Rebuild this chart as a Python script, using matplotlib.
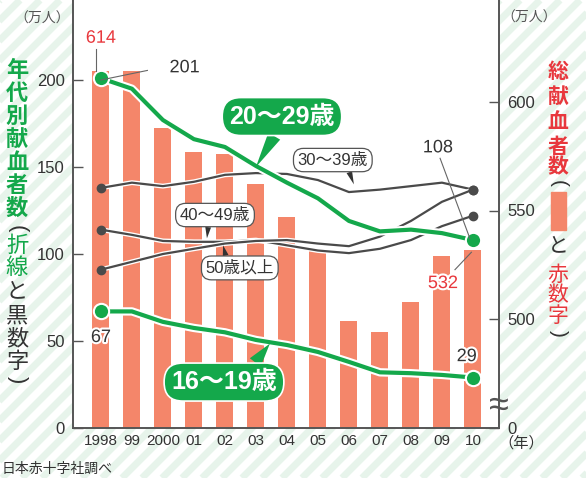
import matplotlib
matplotlib.use("Agg")
import matplotlib.pyplot as plt
import matplotlib.patheffects as pe
from matplotlib.patches import Rectangle

plt.rcParams['font.family'] = ['Liberation Sans', 'Noto Sans CJK JP']

# data (万人)
years = ['1998', '99', '2000', '01', '02', '03', '04', '05', '06', '07', '08', '09', '10']
total = [614, 614, 588, 577, 576, 562, 547, 532, 499, 494, 508, 529, 532]
age_16_19 = [67, 67, 61, 57.5, 55, 50.6, 47.7, 43.7, 38, 32, 31.5, 30.5, 29]
age_20_29 = [201, 195, 177, 166, 161.5, 150.6, 141, 132, 119, 113, 114, 112, 108]
age_30_39 = [138, 141, 139, 141.5, 145.5, 146.5, 146, 142.5, 135.6, 137, 139, 141, 137]
age_40_49 = [114, 111, 107.5, 107, 107, 108, 105, 102, 100.5, 103, 108, 116, 122]
age_50_up = [91, 95.5, 100, 103, 106, 107.5, 108, 106, 104.5, 110, 119, 130, 137]

GREEN = '#14a84b'
GRAY = '#4a4a4a'
BAR = '#f4866a'
RED = '#e8383d'
TXT = '#333333'

W, H = 586, 478
fig = plt.figure(figsize=(W / 100, H / 100), dpi=100)

# striped background, pixel coordinates (y down)
bg = fig.add_axes([0, 0, 1, 1], zorder=-10)
bg.set_xlim(0, W)
bg.set_ylim(H, 0)
bg.axis('off')
for c in range(-H, W + 20, 20):
    bg.plot([c, c + H], [H, 0], color='#e7f4eb', lw=5, solid_capstyle='butt', zorder=0)

# main axes
pos = [73 / W, 50 / H, 426 / W, 435 / H]
ax = fig.add_axes(pos)
axb = ax.twinx()
ax.set_zorder(axb.get_zorder() + 1)
ax.patch.set_visible(False)
axb.patch.set_visible(True)
axb.patch.set_facecolor('white')

x = list(range(len(years)))

# bars: total donors (right axis)
axb.bar(x, total, width=0.55, color=BAR, zorder=1)
axb.set_ylim(450, 650)
axb.set_yticks([450, 500, 550, 600, 650], ['0', '500', '550', '600', '650'])

# lines: by age (left axis)
white_edge = [pe.withStroke(linewidth=6, foreground='white')]
gray_edge = [pe.withStroke(linewidth=3.5, foreground='white')]
for s in [age_30_39, age_40_49, age_50_up]:
    ax.plot(x, s, color=GRAY, lw=1.6, path_effects=gray_edge, zorder=2)
    ax.plot([x[0], x[-1]], [s[0], s[-1]], 'o', color=GRAY, ms=6, zorder=3)
for s in [age_20_29, age_16_19]:
    ax.plot(x, s, color=GREEN, lw=3, path_effects=white_edge, zorder=4)
    ax.plot([x[0], x[-1]], [s[0], s[-1]], 'o', color=GREEN, ms=11,
            mec='white', mew=1.5, zorder=5)

ax.set_xlim(-0.9, 12.84)
ax.set_ylim(0, 250)
ax.set_yticks([0, 50, 100, 150, 200, 250])
ax.set_xticks(x, years)

for a in (ax, axb):
    a.spines['top'].set_visible(False)
    for s in ('left', 'right', 'bottom'):
        a.spines[s].set_color('#555555')
        a.spines[s].set_linewidth(1.2)
    a.tick_params(axis='y', direction='in', length=7, width=1, color='#555555',
                  labelsize=12, labelcolor=TXT, pad=6)
ax.tick_params(axis='x', length=0, labelsize=11, labelcolor=TXT, pad=4)

# number labels
halo = [pe.withStroke(linewidth=3, foreground='white')]
ax.text(0, 224, '614', color=RED, fontsize=13, ha='center', va='center', path_effects=halo, zorder=8)
ax.plot([-0.16, -0.16], [205, 218], color='#666666', lw=0.8, zorder=6)
ax.text(2.7, 207, '201', color=TXT, fontsize=13, ha='center', va='center', path_effects=halo, zorder=8)
ax.plot([0, 1.5], [200, 205.5], color='#666666', lw=0.8, zorder=6)
ax.text(10.87, 161, '108', color=TXT, fontsize=13, ha='center', va='center', path_effects=halo, zorder=8)
ax.plot([10.94, 11.9], [155, 109], color='#666666', lw=0.8, zorder=6)
ax.text(11.03, 83, '532', color=RED, fontsize=13, ha='center', va='center', path_effects=halo, zorder=8)
ax.plot([11.42, 11.95], [91, 101], color='#666666', lw=0.8, zorder=6)
ax.text(0, 52, '67', color=TXT, fontsize=13, ha='center', va='center', path_effects=halo, zorder=8)
ax.text(11.8, 41, '29', color=TXT, fontsize=13, ha='center', va='center', path_effects=halo, zorder=8)

# green callouts
for label, xy, xytext, rel in [('20〜29歳', (5.0, 150), (5.84, 179), (0.47, 0)),
                               ('16〜19歳', (5.45, 48.5), (3.97, 26.4), (0.74, 1))]:
    ax.annotate(label, xy=xy, xytext=xytext, ha='center', va='center',
                color='white', fontsize=18, fontweight='bold', zorder=10,
                bbox=dict(boxstyle='round,pad=0.28,rounding_size=0.75', fc=GREEN, ec='white', lw=1.2),
                arrowprops=dict(arrowstyle='wedge,tail_width=0.55,shrink_factor=0.5', fc=GREEN,
                                ec='none', relpos=rel, shrinkA=0, shrinkB=0))

# gray callouts
for label, xy, xytext, rel in [('30〜39歳', (8.16, 140), (7.48, 154), (0.71, 0)),
                               ('40〜49歳', (3.42, 109), (3.68, 122.4), (0.41, 0)),
                               ('50歳以上', (3.94, 105), (4.48, 92), (0.31, 1))]:
    ax.annotate(label, xy=xy, xytext=xytext, ha='center', va='center',
                color=TXT, fontsize=12, zorder=9,
                bbox=dict(boxstyle='round,pad=0.25,rounding_size=0.6', fc='white', ec='#555555', lw=0.9),
                arrowprops=dict(arrowstyle='wedge,tail_width=0.35,shrink_factor=0.5', fc=TXT,
                                ec='none', relpos=rel, shrinkA=0, shrinkB=0))

# axis break on right axis
ax.text(499, 406, '≈', transform=bg.transData, fontsize=26, color='#555555',
        ha='center', va='center', zorder=12, clip_on=False)

# units and notes
bg.text(42, 19, '（万人）', fontsize=10, color='#555555', ha='center', va='center')
bg.text(529, 18, '（万人）', fontsize=10, color='#555555', ha='center', va='center')
bg.text(498, 443, '（年）', fontsize=11, color=TXT, ha='left', va='center')
bg.text(2, 469, '日本赤十字社調べ', fontsize=10, color=TXT, ha='left', va='center')

# vertical axis titles (brackets are rotated parentheses)
left_chars = [('年', 71, GREEN, 'bold'), ('代', 94, GREEN, 'bold'), ('別', 117, GREEN, 'bold'),
              ('献', 140, GREEN, 'bold'), ('血', 163, GREEN, 'bold'), ('者', 186, GREEN, 'bold'),
              ('数', 209, GREEN, 'bold'), ('(', 229, TXT, 'normal'), ('折', 246, GREEN, 'normal'),
              ('線', 268, GREEN, 'normal'), ('と', 292, TXT, 'normal'), ('黒', 317, TXT, 'normal'),
              ('数', 340, TXT, 'normal'), ('字', 362, TXT, 'normal'), (')', 380, TXT, 'normal')]
right_chars = [('総', 72, RED, 'bold'), ('献', 97, RED, 'bold'), ('血', 122, RED, 'bold'),
               ('者', 147, RED, 'bold'), ('数', 168, RED, 'bold'), ('(', 183, TXT, 'normal'),
               ('と', 246, TXT, 'normal'), ('赤', 275, RED, 'normal'), ('数', 295, RED, 'normal'),
               ('字', 316, RED, 'normal'), (')', 333, TXT, 'normal')]
for cx, chars, fs in [(17, left_chars, 16), (558, right_chars, 15)]:
    for ch, y, col, w in chars:
        if ch in '()':
            bg.text(cx, y, ch, fontsize=fs, color=col, ha='center', va='center',
                    rotation=-90, rotation_mode='anchor', zorder=5)
        else:
            bg.text(cx, y, ch, fontsize=fs, color=col, fontweight=w, ha='center', va='center',
                    zorder=5)
bg.add_patch(Rectangle((551, 192), 15, 38, color=BAR, zorder=5))

fig.savefig('out.png', dpi=100)
